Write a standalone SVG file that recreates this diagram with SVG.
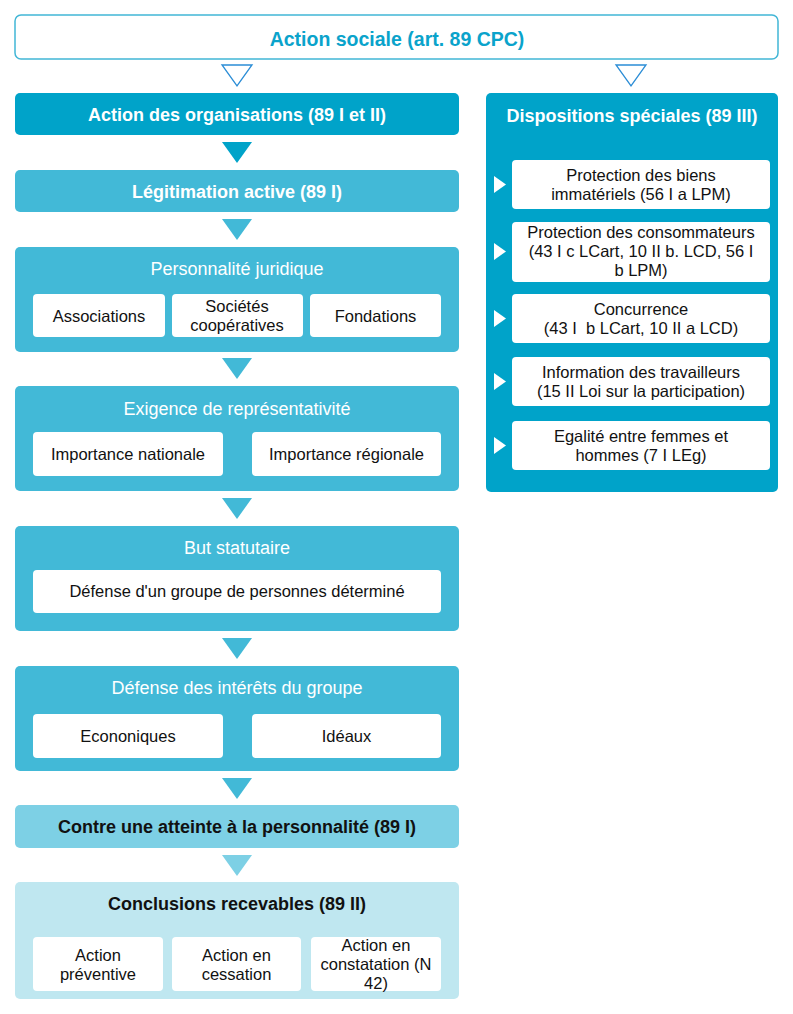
<svg xmlns="http://www.w3.org/2000/svg" width="793" height="1014" viewBox="0 0 793 1014">
  <style>
    text { font-family: "Liberation Sans", Arial, sans-serif; text-anchor: middle; }
    .hd { font-weight: bold; font-size: 18px; }
    .tt { font-size: 18px; fill: #ffffff; }
    .it { font-size: 16.5px; fill: #111111; }
    .white { fill: #ffffff; }
    .dark { fill: #00a3c9; }
    .mid { fill: #42b9d7; }
    .light { fill: #7dd0e5; }
    .pale { fill: #bfe7f0; }
    .card { fill: #ffffff; }
  </style>

  <rect width="793" height="1014" fill="#ffffff"/>

  <!-- Top node -->
  <g id="n-action-sociale">
    <rect x="15" y="15" width="763" height="44" rx="6" fill="#ffffff" stroke="#42b6d6" stroke-width="1.5"/>
    <text x="397" y="46" class="hd" style="font-size:19.5px" fill="#0aa3cb">Action sociale (art. 89 CPC)</text>
  </g>

  <!-- Left column -->
  <g id="n-organisations">
    <rect x="15" y="93" width="444" height="42" rx="5" class="dark"/>
    <text x="237" y="121" class="hd white">Action des organisations (89 I et II)</text>
  </g>

  <g id="n-legitimation">
    <rect x="15" y="170" width="444" height="42" rx="5" class="mid"/>
    <text x="237" y="198" class="hd white">Légitimation active (89 I)</text>
  </g>

  <g id="n-personnalite">
    <rect x="15" y="247" width="444" height="105" rx="5" class="mid"/>
    <text x="237" y="275" class="tt">Personnalité juridique</text>
    <rect x="33" y="294" width="132" height="43" rx="4" class="card"/>
    <text x="99" y="322" class="it">Associations</text>
    <rect x="172" y="294" width="131" height="43" rx="4" class="card"/>
    <text x="237" y="312" class="it">Sociétés</text>
    <text x="237" y="331" class="it">coopératives</text>
    <rect x="310" y="294" width="131" height="43" rx="4" class="card"/>
    <text x="375.5" y="322" class="it">Fondations</text>
  </g>

  <g id="n-representativite">
    <rect x="15" y="386" width="444" height="105" rx="5" class="mid"/>
    <text x="237" y="415" class="tt">Exigence de représentativité</text>
    <rect x="33" y="432" width="190" height="44" rx="4" class="card"/>
    <text x="128" y="460" class="it">Importance nationale</text>
    <rect x="252" y="432" width="189" height="44" rx="4" class="card"/>
    <text x="346.5" y="460" class="it">Importance régionale</text>
  </g>

  <g id="n-but">
    <rect x="15" y="526" width="444" height="105" rx="5" class="mid"/>
    <text x="237" y="554" class="tt">But statutaire</text>
    <rect x="33" y="570" width="408" height="43" rx="4" class="card"/>
    <text x="237" y="597" class="it">Défense d'un groupe de personnes déterminé</text>
  </g>

  <g id="n-interets">
    <rect x="15" y="666" width="444" height="105" rx="5" class="mid"/>
    <text x="237" y="694" class="tt">Défense des intérêts du groupe</text>
    <rect x="33" y="714" width="190" height="44" rx="4" class="card"/>
    <text x="128" y="742" class="it">Econoniques</text>
    <rect x="252" y="714" width="189" height="44" rx="4" class="card"/>
    <text x="346.5" y="742" class="it">Idéaux</text>
  </g>

  <g id="n-atteinte">
    <rect x="15" y="805" width="444" height="43" rx="5" class="light"/>
    <text x="237" y="833" class="hd" fill="#111111">Contre une atteinte à la personnalité (89 I)</text>
  </g>

  <g id="n-conclusions">
    <rect x="15" y="882" width="444" height="117" rx="5" class="pale"/>
    <text x="237" y="910" class="hd" fill="#111111">Conclusions recevables (89 II)</text>
    <rect x="33" y="937" width="130" height="54" rx="4" class="card"/>
    <text x="98" y="961" class="it">Action</text>
    <text x="98" y="980" class="it">préventive</text>
    <rect x="172" y="937" width="129" height="54" rx="4" class="card"/>
    <text x="236.5" y="961" class="it">Action en</text>
    <text x="236.5" y="980" class="it">cessation</text>
    <rect x="311" y="937" width="130" height="54" rx="4" class="card"/>
    <text x="376" y="951" class="it">Action en</text>
    <text x="376" y="970" class="it">constatation (N</text>
    <text x="376" y="989" class="it">42)</text>
  </g>

  <!-- Right column -->
  <g id="n-dispositions">
    <rect x="486" y="93" width="292" height="399" rx="5" class="dark"/>
    <text x="632" y="122" class="hd white">Dispositions spéciales (89 III)</text>
  </g>

  <g id="n-biens">
    <rect x="512" y="160" width="258" height="49" rx="4" class="card"/>
    <text x="641" y="181" class="it">Protection des biens</text>
    <text x="641" y="200" class="it">immatériels (56 I a LPM)</text>
  </g>

  <g id="n-consommateurs">
    <rect x="512" y="222" width="258" height="60" rx="4" class="card"/>
    <text x="641" y="238" class="it">Protection des consommateurs</text>
    <text x="641" y="257" class="it">(43 I c LCart, 10 II b. LCD, 56 I</text>
    <text x="641" y="276" class="it">b LPM)</text>
  </g>

  <g id="n-concurrence">
    <rect x="512" y="294" width="258" height="49" rx="4" class="card"/>
    <text x="641" y="315" class="it">Concurrence</text>
    <text x="641" y="334" class="it" xml:space="preserve">(43 I  b LCart, 10 II a LCD)</text>
  </g>

  <g id="n-travailleurs">
    <rect x="512" y="357" width="258" height="49" rx="4" class="card"/>
    <text x="641" y="378" class="it">Information des travailleurs</text>
    <text x="641" y="397" class="it">(15 II Loi sur la participation)</text>
  </g>

  <g id="n-egalite">
    <rect x="512" y="421" width="258" height="49" rx="4" class="card"/>
    <text x="641" y="442" class="it">Egalité entre femmes et</text>
    <text x="641" y="461" class="it">hommes (7 I LEg)</text>
  </g>

  <!-- Connectors: downward flow triangles and side pointers -->
  <g id="connectors">
    <polygon points="222,65 252,65 237,86" fill="none" stroke="#2b8dd6" stroke-width="1.3"/>
    <polygon points="616,65 646,65 631,86" fill="none" stroke="#2b8dd6" stroke-width="1.3"/>
    <polygon points="222,142 252,142 237,163" class="dark"/>
    <polygon points="222,219 252,219 237,240" class="mid"/>
    <polygon points="222,358 252,358 237,379" class="mid"/>
    <polygon points="222,498 252,498 237,519" class="mid"/>
    <polygon points="222,638 252,638 237,659" class="mid"/>
    <polygon points="222,778 252,778 237,799" class="mid"/>
    <polygon points="222,855 252,855 237,876" class="light"/>
    <polygon points="494,176 494,193 506,184.5" class="white"/>
    <polygon points="494,243 494,260 506,251.5" class="white"/>
    <polygon points="494,310 494,327 506,318.5" class="white"/>
    <polygon points="494,373 494,390 506,381.5" class="white"/>
    <polygon points="494,437 494,454 506,445.5" class="white"/>
  </g>
</svg>
